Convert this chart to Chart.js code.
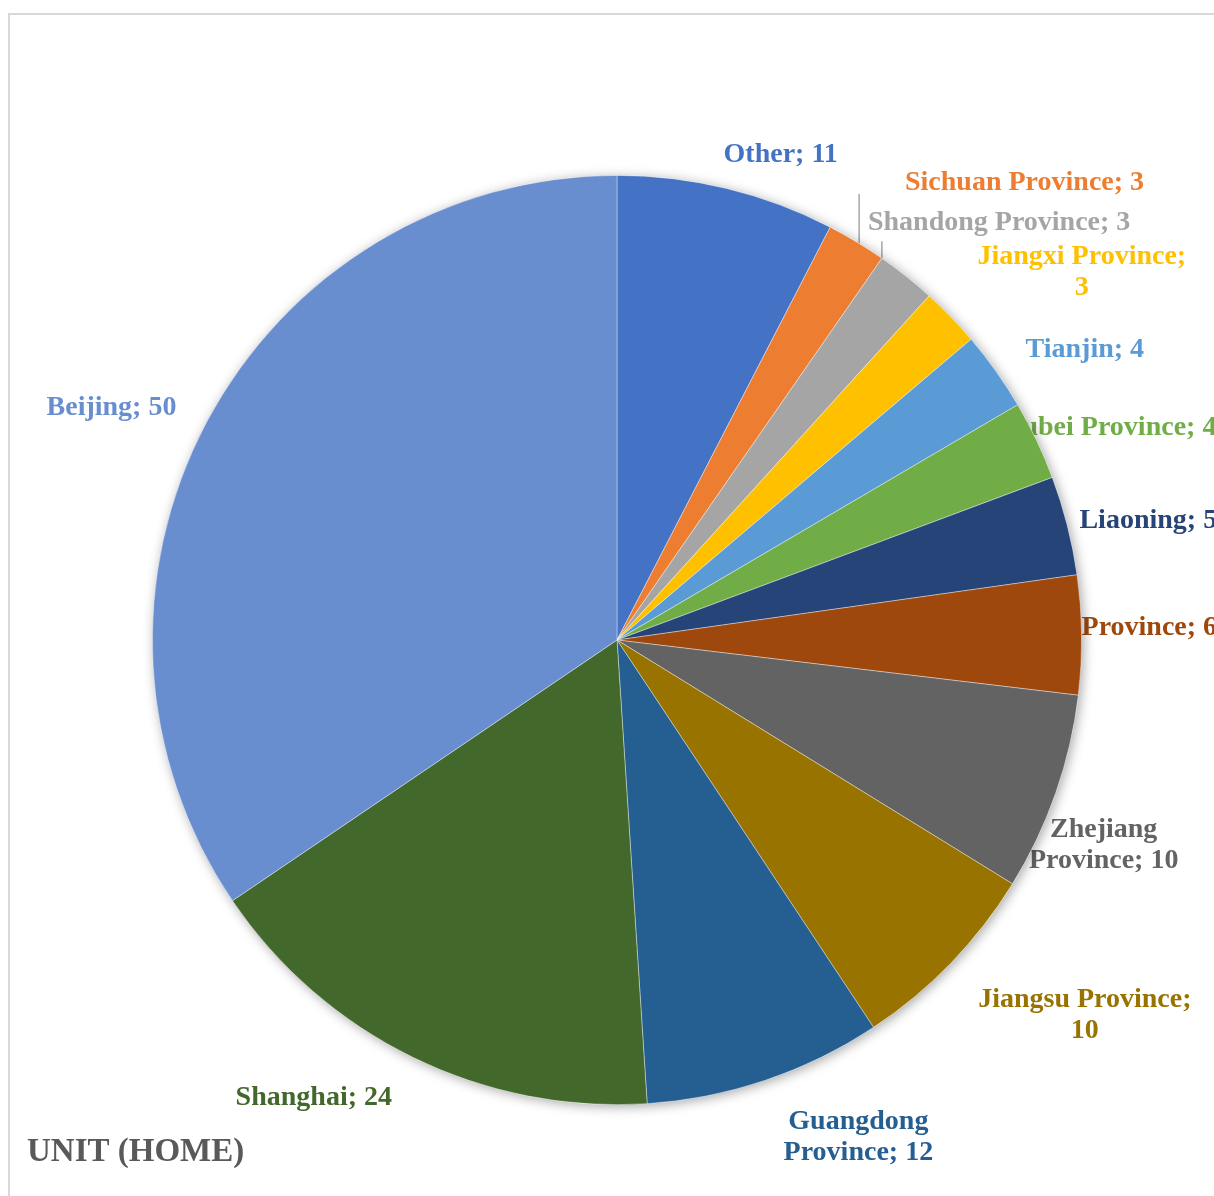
<!DOCTYPE html>
<html>
<head>
<meta charset="utf-8">
<title>Unit (home)</title>
<script src="https://cdn.jsdelivr.net/npm/chart.js@4/dist/chart.umd.min.js"></script>
<style>
    body { margin: 0; background: #ffffff; }
    #pieChart { display: block; }
</style>
</head>
<body>
<canvas id="pieChart" width="1214" height="1196"></canvas>
<script>
const regions = [
    'Other', 'Sichuan Province', 'Shandong Province', 'Jiangxi Province',
    'Tianjin', 'Hubei Province', 'Liaoning', 'Hunan Province',
    'Zhejiang Province', 'Jiangsu Province', 'Guangdong Province',
    'Shanghai', 'Beijing'
];
const homes = [11, 3, 3, 3, 4, 4, 5, 6, 10, 10, 12, 24, 50];
const sliceColors = [
    '#4472C4', '#ED7D31', '#A5A5A5', '#FFC000',
    '#5B9BD5', '#70AD47', '#264478', '#9E480E',
    '#636363', '#997300', '#255E91', '#43682B', '#698ED0'
];

// how each label wraps: 0 = one line, 1 = after the first word, 2 = before the number
const labelWrap = [0, 0, 0, 2, 0, 0, 0, 0, 1, 2, 1, 0, 0];
// label centre, relative to the middle of each slice's outer edge
const labelOffsets = [
    [54, -34], [168, -59], [93, -54], [131, -45],
    [89, -21], [72, -13], [81, -5], [23, -7],
    [48, 52], [134, 52], [93, 57], [-99, 40], [-95, -15]
];
// leader lines: [position along the slice edge 0..1, top of line below label centre]
const leaders = { 1: [0.55, 11], 2: [0.0, 19] };

const FONT = '"Liberation Serif", "Times New Roman", serif';

function labelLines(i) {
    const text = regions[i] + '; ' + homes[i];
    if (labelWrap[i] === 1) {
        const cut = text.indexOf(' ');
        return [text.slice(0, cut), text.slice(cut + 1)];
    }
    if (labelWrap[i] === 2) {
        return [regions[i] + ';', String(homes[i])];
    }
    return [text];
}

const pieDecor = {
    id: 'pieDecor',
    beforeDatasetsDraw(chart) {
        const ctx = chart.ctx;
        const arcs = chart.getDatasetMeta(0).data;

        // frame
        ctx.save();
        ctx.strokeStyle = '#d9d9d9';
        ctx.lineWidth = 2;
        ctx.beginPath();
        ctx.moveTo(9, chart.height);
        ctx.lineTo(9, 14);
        ctx.lineTo(chart.width, 14);
        ctx.stroke();
        ctx.restore();

        // data labels go underneath the pie
        ctx.save();
        ctx.font = 'bold 28px ' + FONT;
        ctx.textAlign = 'center';
        ctx.textBaseline = 'middle';
        arcs.forEach((arc, i) => {
            const mid = (arc.startAngle + arc.endAngle) / 2;
            const ex = arc.x + Math.cos(mid) * arc.outerRadius;
            const ey = arc.y + Math.sin(mid) * arc.outerRadius;
            const cx = ex + labelOffsets[i][0];
            const cy = ey + labelOffsets[i][1];
            const lines = labelLines(i);
            const lh = 31;
            ctx.fillStyle = sliceColors[i];
            lines.forEach((ln, k) => {
                ctx.fillText(ln, cx, cy + (k - (lines.length - 1) / 2) * lh);
            });

            if (leaders[i]) {
                const a = arc.startAngle + (arc.endAngle - arc.startAngle) * leaders[i][0];
                const lx = arc.x + Math.cos(a) * arc.outerRadius;
                const ly = arc.y + Math.sin(a) * arc.outerRadius;
                ctx.strokeStyle = '#a6a6a6';
                ctx.lineWidth = 1.5;
                ctx.beginPath();
                ctx.moveTo(lx, ly);
                ctx.lineTo(lx, cy + leaders[i][1]);
                ctx.stroke();
            }
        });
        ctx.restore();

        // soft shadow behind the whole pie
        const a0 = arcs[0];
        ctx.save();
        ctx.shadowColor = 'rgba(0, 0, 0, 0.35)';
        ctx.shadowBlur = 12;
        ctx.shadowOffsetX = 2;
        ctx.shadowOffsetY = 2;
        ctx.fillStyle = '#ffffff';
        ctx.beginPath();
        ctx.arc(a0.x, a0.y, a0.outerRadius, 0, Math.PI * 2);
        ctx.fill();
        ctx.restore();
    },
    afterDraw(chart) {
        const ctx = chart.ctx;
        ctx.save();
        ctx.font = 'bold 33px ' + FONT;
        ctx.fillStyle = '#595959';
        ctx.textAlign = 'left';
        ctx.textBaseline = 'middle';
        ctx.fillText('UNIT (HOME)', 27, 1152);
        ctx.restore();
    }
};

new Chart(document.getElementById('pieChart'), {
    type: 'pie',
    data: {
        labels: regions,
        datasets: [{
            data: homes,
            backgroundColor: sliceColors,
            borderColor: 'rgba(255, 255, 255, 0.5)',
            borderWidth: 0.75
        }]
    },
    options: {
        responsive: false,
        animation: false,
        devicePixelRatio: 1,
        layout: {
            padding: { left: 152, right: 132, top: 175, bottom: 91 }
        },
        plugins: {
            legend: { display: false },
            tooltip: { enabled: false }
        }
    },
    plugins: [pieDecor]
});
</script>
</body>
</html>
